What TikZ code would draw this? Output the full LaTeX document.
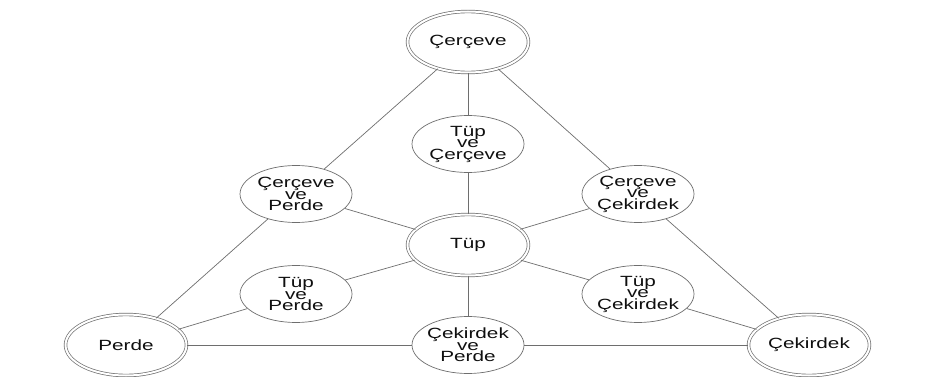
\documentclass[tikz,border=0pt]{standalone}
\usepackage{fontspec}
\setmainfont[FakeStretch=1.4]{Liberation Sans}
\usetikzlibrary{shapes.geometric}
\definecolor{linegray}{RGB}{110,110,110}
\definecolor{txt}{RGB}{15,15,15}
\tikzset{
  base/.style={ellipse, draw=linegray, line width=0.7pt, inner xsep=-20pt, inner ysep=-8pt,
    align=center, text=txt, font=\fontsize{14.8}{11.5}\selectfont},
  single/.style={base, minimum width=112pt, minimum height=57pt},
  dbl/.style={base, double=white, double distance=2pt, minimum width=121pt, minimum height=61pt},
  conn/.style={draw=linegray, line width=0.7pt}
}
\begin{document}
\begin{tikzpicture}[x=1pt,y=-1pt]
\fill[white] (0,0) rectangle (948,377);
\useasboundingbox (0,0) rectangle (948,377);
\node[dbl] (cer) at (468,42) {Çerçeve};
\node[dbl] (tup) at (468,245) {Tüp};
\node[dbl] (perde) at (126,345) {Perde};
\node[dbl] (cek) at (809,345) {Çekirdek};
\node[single] (tc) at (468,144) {Tüp\\ve\\Çerçeve};
\node[single] (cp) at (296,194) {Çerçeve\\ve\\Perde};
\node[single] (cc) at (638,194) {Çerçeve\\ve\\Çekirdek};
\node[single] (tp) at (296,294) {Tüp\\ve\\Perde};
\node[single] (tk) at (638,294) {Tüp\\ve\\Çekirdek};
\node[single] (kp) at (468,345) {Çekirdek\\ve\\Perde};
\path[conn] (cer) -- (tc) (tc) -- (tup) (tup) -- (kp);
\path[conn] (perde) -- (kp) (kp) -- (cek);
\path[conn] (cer) -- (cp) (cp) -- (perde);
\path[conn] (cer) -- (cc) (cc) -- (cek);
\path[conn] (tup) -- (cp) (tup) -- (cc);
\path[conn] (tup) -- (tp) (tp) -- (perde);
\path[conn] (tup) -- (tk) (tk) -- (cek);
\end{tikzpicture}
\end{document}
